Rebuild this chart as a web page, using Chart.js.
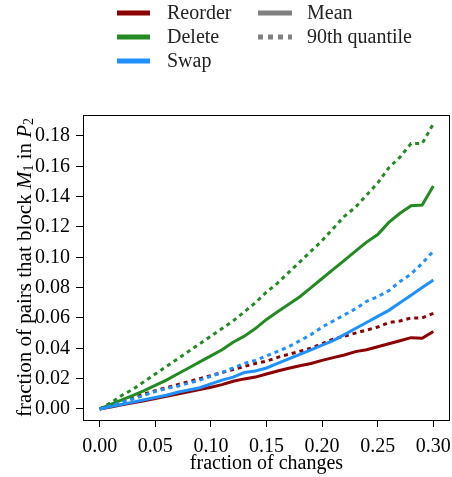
<!DOCTYPE html>
<html>
<head>
<meta charset="utf-8">
<script src="https://cdn.jsdelivr.net/npm/chart.js@4.4.0/dist/chart.umd.min.js"></script>
<style>
  html, body { margin: 0; padding: 0; background: #fff; }
  #wrap { width: 452px; height: 477px; position: relative; }
</style>
</head>
<body>
<div id="wrap"><canvas id="chart" width="452" height="477"></canvas></div>
<script>
// Data
const changes = [0.00, 0.01, 0.02, 0.03, 0.04, 0.05, 0.06, 0.07, 0.08, 0.09, 0.10,
  0.11, 0.12, 0.13, 0.14, 0.15, 0.16, 0.17, 0.18, 0.19, 0.20,
  0.21, 0.22, 0.23, 0.24, 0.25, 0.26, 0.27, 0.28, 0.29, 0.30];

const reorderMean = [0, 0.0013, 0.0027, 0.004, 0.0054, 0.0068, 0.0083, 0.0098, 0.0113, 0.0128, 0.0143,
  0.016, 0.0182, 0.0198, 0.021, 0.023, 0.025, 0.0268, 0.0285, 0.030, 0.032,
  0.0338, 0.0356, 0.0378, 0.039, 0.041, 0.043, 0.045, 0.047, 0.0466, 0.051];
const reorderQ90 = [0, 0.0025, 0.005, 0.0075, 0.0098, 0.012, 0.014, 0.016, 0.018, 0.020, 0.022,
  0.024, 0.026, 0.028, 0.030, 0.0315, 0.034, 0.036, 0.038, 0.040, 0.043,
  0.046, 0.048, 0.050, 0.052, 0.054, 0.057, 0.058, 0.060, 0.060, 0.063];
const deleteMean = [0, 0.003, 0.006, 0.009, 0.012, 0.0155, 0.019, 0.023, 0.027, 0.031, 0.035,
  0.039, 0.044, 0.048, 0.053, 0.059, 0.064, 0.069, 0.074, 0.080, 0.086,
  0.092, 0.098, 0.104, 0.110, 0.115, 0.123, 0.129, 0.134, 0.1345, 0.147];
const deleteQ90 = [0, 0.004, 0.009, 0.013, 0.018, 0.023, 0.028, 0.033, 0.038, 0.043, 0.048,
  0.053, 0.058, 0.064, 0.070, 0.077, 0.083, 0.090, 0.097, 0.104, 0.111,
  0.119, 0.127, 0.133, 0.141, 0.149, 0.159, 0.166, 0.175, 0.175, 0.188];
const swapMean = [0, 0.0015, 0.003, 0.0045, 0.006, 0.0075, 0.009, 0.011, 0.0125, 0.014, 0.0165,
  0.019, 0.021, 0.024, 0.025, 0.027, 0.030, 0.033, 0.036, 0.039, 0.042,
  0.045, 0.049, 0.053, 0.057, 0.061, 0.065, 0.070, 0.075, 0.080, 0.085];
const swapQ90 = [0, 0.002, 0.0045, 0.0065, 0.009, 0.0115, 0.0135, 0.015, 0.017, 0.019, 0.0215,
  0.024, 0.027, 0.030, 0.032, 0.035, 0.038, 0.041, 0.045, 0.049, 0.054,
  0.058, 0.062, 0.066, 0.071, 0.074, 0.078, 0.084, 0.089, 0.096, 0.104];

const xTicks = [0.00, 0.05, 0.10, 0.15, 0.20, 0.25, 0.30];
const yTicks = [0.00, 0.02, 0.04, 0.06, 0.08, 0.10, 0.12, 0.14, 0.16, 0.18];

const RED = '#8b0000', GREEN = '#228b22', BLUE = '#1e90ff', GREY = '#808080';
const FONT = '"Liberation Serif", "DejaVu Serif", serif';

function pts(ys) {
  return ys.map((y, i) => ({ x: changes[i], y: y }));
}

function series(label, ys, color, dotted) {
  return {
    label: label,
    data: pts(ys),
    borderColor: color,
    backgroundColor: color,
    borderWidth: 3,
    borderDash: dotted ? [4, 4] : [],
    pointRadius: 0,
    tension: 0,
    fill: false
  };
}

// first dataset is drawn on top
const datasets = [
  series('Swap 90th', swapQ90, BLUE, true),
  series('Swap mean', swapMean, BLUE, false),
  series('Delete 90th', deleteQ90, GREEN, true),
  series('Delete mean', deleteMean, GREEN, false),
  series('Reorder 90th', reorderQ90, RED, true),
  series('Reorder mean', reorderMean, RED, false)
];

// box, legend and axis titles
const extras = {
  id: 'extras',
  afterDraw(chart) {
    const ctx = chart.ctx;
    const a = chart.chartArea;
    ctx.save();
    ctx.strokeStyle = '#000';
    ctx.lineWidth = 1;
    ctx.strokeRect(Math.round(a.left) + 0.5, Math.round(a.top) + 0.5,
      Math.round(a.right - a.left) - 1, Math.round(a.bottom - a.top));

    // legend
    const rows = [
      { x1: 117, x2: 150, tx: 167, y: 13, color: RED, dash: [], text: 'Reorder' },
      { x1: 117, x2: 150, tx: 167, y: 37, color: GREEN, dash: [], text: 'Delete' },
      { x1: 117, x2: 150, tx: 167, y: 61, color: BLUE, dash: [], text: 'Swap' },
      { x1: 258, x2: 292, tx: 307, y: 13, color: GREY, dash: [], text: 'Mean' },
      { x1: 258, x2: 292, tx: 307, y: 37, color: GREY, dash: [5, 5], text: '90th quantile' }
    ];
    ctx.font = '20px ' + FONT;
    ctx.textBaseline = 'middle';
    ctx.textAlign = 'left';
    rows.forEach(r => {
      ctx.beginPath();
      ctx.setLineDash(r.dash);
      ctx.strokeStyle = r.color;
      ctx.lineWidth = 5;
      ctx.moveTo(r.x1, r.y);
      ctx.lineTo(r.x2, r.y);
      ctx.stroke();
      ctx.setLineDash([]);
      ctx.fillStyle = '#222';
      ctx.fillText(r.text, r.tx, r.y + 1);
    });

    // x title
    ctx.fillStyle = '#000';
    ctx.textAlign = 'center';
    ctx.fillText('fraction of changes', (a.left + a.right) / 2, 464);

    // y title with math parts
    const parts = [
      { t: 'fraction of pairs that block ', f: '21px ' + FONT, dy: 0 },
      { t: 'M', f: 'italic 21px ' + FONT, dy: 0 },
      { t: '1', f: '14px ' + FONT, dy: 4 },
      { t: ' in ', f: '21px ' + FONT, dy: 0 },
      { t: 'P', f: 'italic 21px ' + FONT, dy: 0 },
      { t: '2', f: '14px ' + FONT, dy: 4 }
    ];
    let total = 0;
    parts.forEach(p => { ctx.font = p.f; p.w = ctx.measureText(p.t).width; total += p.w; });
    ctx.translate(25, (a.top + a.bottom) / 2);
    ctx.rotate(-Math.PI / 2);
    ctx.textAlign = 'left';
    let cx = -total / 2;
    parts.forEach(p => {
      ctx.font = p.f;
      ctx.fillText(p.t, cx, p.dy);
      cx += p.w;
    });
    ctx.restore();
  }
};

new Chart(document.getElementById('chart').getContext('2d'), {
  type: 'line',
  data: { datasets: datasets },
  options: {
    responsive: false,
    animation: false,
    layout: { padding: { left: 0, right: 2, top: 115, bottom: 0 } },
    plugins: { legend: { display: false }, tooltip: { enabled: false } },
    scales: {
      x: {
        type: 'linear',
        min: -0.015,
        max: 0.315,
        afterBuildTicks: s => { s.ticks = xTicks.map(v => ({ value: v })); },
        afterFit: s => { s.height = 57; s.paddingLeft = 0; s.paddingRight = 0; },
        grid: { drawOnChartArea: false, drawTicks: true, tickLength: 7, color: '#000' },
        border: { display: false },
        ticks: {
          autoSkip: false,
          maxRotation: 0,
          padding: 8,
          color: '#000',
          font: { family: FONT, size: 20 },
          callback: v => v.toFixed(2)
        }
      },
      y: {
        type: 'linear',
        min: -0.0073,
        max: 0.1938,
        afterBuildTicks: s => { s.ticks = yTicks.map(v => ({ value: v })); },
        afterFit: s => { s.width = 83; s.paddingTop = 0; s.paddingBottom = 0; },
        grid: { drawOnChartArea: false, drawTicks: true, tickLength: 7, color: '#000' },
        border: { display: false },
        ticks: {
          autoSkip: false,
          padding: 6,
          color: '#000',
          font: { family: FONT, size: 20 },
          callback: v => v.toFixed(2)
        }
      }
    }
  },
  plugins: [extras]
});
</script>
</body>
</html>
